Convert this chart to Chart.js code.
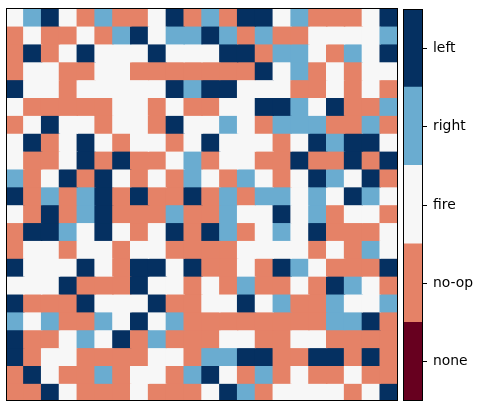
<!DOCTYPE html>
<html>
<head>
<meta charset="utf-8">
<title>Action grid</title>
<script src="https://cdn.jsdelivr.net/npm/chart.js@4.4.0/dist/chart.umd.min.js"></script>
<style>
    html, body { margin: 0; padding: 0; background: #fff; }
    body { width: 480px; height: 413px; position: relative; overflow: hidden; }
    #gridBox { position: absolute; left: 6px; top: 8px; width: 392px; height: 393px; }
    #barBox { position: absolute; left: 403px; top: 0; width: 77px; height: 413px; }
</style>
</head>
<body>
<div id="gridBox"><canvas id="gridChart"></canvas></div>
<div id="barBox"><canvas id="barChart"></canvas></div>
<script>
// Action names, in colour bar order (bottom -> top)
const actions = ['none', 'no-op', 'fire', 'right', 'left'];
// Cell codes used in the grid rows below
const codes = ['X', 'N', 'F', 'R', 'L'];

// 22 x 22 grid, top row first (N = no-op, F = fire, R = right, L = left)
const gridRows = [
    'FRLFNRNNFLNRNLLFRNNNFL',
    'NFNNFNRLFRRLRNRNNFFFFR',
    'NLNFLFFFLFFFLLNRRFNRFL',
    'NFFNNFFNNNNNNNLFRNFNFF',
    'LFFNFFFFFLRLLFFFNNFNFN',
    'FNNNNNFFNFNNFFLLRFLNNR',
    'NFLFFNFFNLFFRFNRRRNNRN',
    'FLNFLFNFFNFLFFFNFLRLLF',
    'FNNFLNLNNFRNFFNNLNNLNL',
    'RNFLNLFNFNRFNRFNFLRFLN',
    'LNRNRLNLNNLNRNRRFRFLRF',
    'FNLNRLNNNRNNRFFLFRNFFN',
    'NLLRFLFNFLNLRNFRFLNNNF',
    'NFFNFFNFFNNNNFFFFNFNRF',
    'LFFFLFNLLFLNNFNLRFNNNL',
    'FFFLNNNLFFNFNRNNFNLRFN',
    'LNNNLFFFLNNFFLFRNNRFFR',
    'RFRNNRFLFRNNNNNNNNRRLN',
    'LNNFRFLNRNNNFFNNFFNNNN',
    'LNFFNNNNFFNRRLLNNLLNLN',
    'NLFNNRNFFNRLFNRNFNNFNN',
    'NNLFNNNFNNNFLRNFFFFNFL'
];

// RdBu sampled at 5 levels
const actionColors = ['#67001f', '#e58267', '#f7f7f7', '#6aacd0', '#053061'];

const columns = gridRows[0].split('').map((c, i) => i);

// Thin black frame around the plotting area (like the axes spines)
const framePlugin = {
    id: 'frame',
    afterDatasetsDraw(chart) {
        const { ctx, chartArea: a } = chart;
        ctx.save();
        ctx.strokeStyle = '#000';
        ctx.lineWidth = 1;
        ctx.strokeRect(a.left + 0.5, a.top + 0.5, a.right - a.left - 1, a.bottom - a.top - 1);
        ctx.restore();
    }
};

function initializeGrid() {
    const datasets = gridRows.map((row, r) => ({
        label: 'row ' + r,
        data: columns.map(() => [r, r + 1]),
        backgroundColor: row.split('').map(c => actionColors[codes.indexOf(c)]),
        borderWidth: 0,
        inflateAmount: 0.7,
        grouped: false,
        barPercentage: 1,
        categoryPercentage: 1
    }));

    new Chart(document.getElementById('gridChart'), {
        type: 'bar',
        data: { labels: columns, datasets: datasets },
        options: {
            responsive: true,
            maintainAspectRatio: false,
            animation: false,
            layout: { padding: 0 },
            plugins: { legend: { display: false }, tooltip: { enabled: false } },
            scales: {
                x: { display: false },
                y: { display: false, reverse: true, min: 0, max: gridRows.length }
            }
        },
        plugins: [framePlugin]
    });
}

function initializeColorBar() {
    const datasets = actions.map((name, i) => ({
        label: name,
        data: [[i, i + 1]],
        backgroundColor: actionColors[i],
        borderWidth: 0,
        inflateAmount: 0.7,
        grouped: false,
        barPercentage: 1,
        categoryPercentage: 1
    }));

    new Chart(document.getElementById('barChart'), {
        type: 'bar',
        data: { labels: ['action'], datasets: datasets },
        options: {
            responsive: true,
            maintainAspectRatio: false,
            animation: false,
            layout: { padding: { top: 9, bottom: 12, left: 0, right: 0 } },
            plugins: { legend: { display: false }, tooltip: { enabled: false } },
            scales: {
                x: { display: false },
                y: {
                    position: 'right',
                    min: 0,
                    max: actions.length,
                    afterFit: function(scale) {
                        scale.width = 57;
                        scale.paddingTop = 0;
                        scale.paddingBottom = 0;
                    },
                    afterBuildTicks: function(scale) {
                        scale.ticks = actions.map((a, i) => ({ value: i + 0.5 }));
                    },
                    ticks: {
                        color: '#000',
                        padding: 6,
                        font: { family: 'DejaVu Sans', size: 13.9 },
                        callback: function(value) {
                            return actions[Math.floor(value)];
                        }
                    },
                    grid: {
                        drawOnChartArea: false,
                        drawTicks: true,
                        tickLength: 4,
                        color: '#000'
                    },
                    border: { display: false }
                }
            }
        },
        plugins: [framePlugin]
    });
}

initializeGrid();
initializeColorBar();
</script>
</body>
</html>
